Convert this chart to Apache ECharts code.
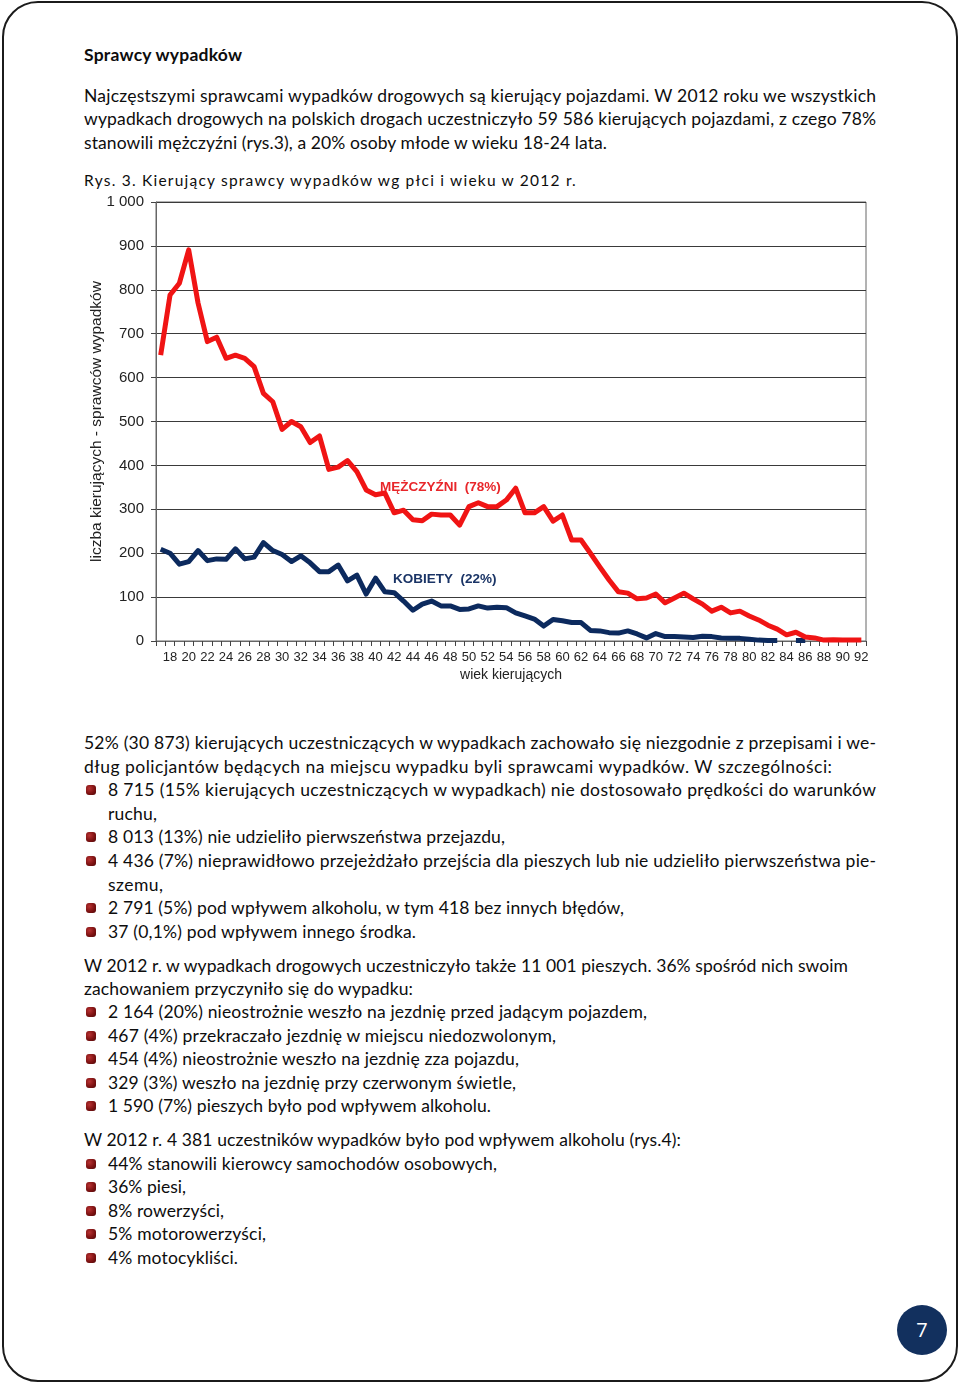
<!DOCTYPE html>
<html><head><meta charset="utf-8">
<script src="https://cdn.jsdelivr.net/npm/echarts@6/dist/echarts.min.js"></script>
<style>
html,body{margin:0;padding:0;background:#fff;}
body{width:960px;height:1383px;position:relative;overflow:hidden;font-family:Lato,"Open Sans",sans-serif;color:#0d0d0d;}
#frame{position:absolute;left:2px;top:1px;width:952px;height:1377px;border:2px solid #1b1b1b;border-radius:36px;}
.ln{position:absolute;white-space:nowrap;font-size:17.5px;line-height:24px;height:24px;}
.bul{position:absolute;width:10px;height:10px;border-radius:3px;background:radial-gradient(circle at 35% 35%,#b83232 0%,#7e1212 55%,#4e0909 100%);}
#chart{position:absolute;left:0;top:185px;width:960px;height:510px;}
#pnum{position:absolute;left:897px;top:1305px;width:50px;height:50px;border-radius:50%;background:#12305e;color:#fff;font-family:"Open Sans",sans-serif;font-size:20px;line-height:50px;text-align:center;}
</style></head>
<body>
<div id="frame"></div>
<div id="text"></div>
<div id="chart"></div>
<div id="pnum">7</div>
<script>
// ---- chart data ----
const ages = [];
for (let a = 17; a <= 92; a++) ages.push(String(a));
const menValues = [651,788,815,891,770,682,692,644,651,644,625,564,545,482,500,488,452,467,391,396,411,386,344,333,337,292,298,276,274,289,287,287,264,306,315,306,306,321,348,292,292,306,273,287,230,230,200,169,139,112,109,96,98,107,87,98,109,96,84,68,77,64,68,57,48,36,27,14,20,9,7,2,3,2,2,2];
const womenValues = [209,200,175,181,206,183,187,186,210,187,191,224,206,197,181,194,178,158,158,173,137,150,107,143,112,110,91,70,84,91,80,80,72,73,80,75,77,76,64,57,50,34,49,46,42,42,24,23,19,18,23,16,7,17,10,10,9,8,11,10,7,6,6,4,2,1,1,null,1,1,null,null,null,null,null,null];
const yTickLabels = ['0','100','200','300','400','500','600','700','800','900','1 000'];
const seriesNames = ['MĘŻCZYŹNI  (78%)','KOBIETY  (22%)'];

// ---- page text ----
const lines = [
 ['Sprawcy wypadków',84,55,242,false,true],
 ['Najczęstszymi sprawcami wypadków drogowych są kierujący pojazdami. W 2012 roku we wszystkich',84,96,876],
 ['wypadkach drogowych na polskich drogach uczestniczyło 59 586 kierujących pojazdami, z czego 78%',84,119,876],
 ['stanowili mężczyźni (rys.3), a 20% osoby młode w wieku 18-24 lata.',84,143,607],
 ['Rys.  3. Kierujący sprawcy wypadków wg płci i wieku w 2012 r.',84,180,577,false,false,15.5],
 ['52% (30 873) kierujących uczestniczących w wypadkach zachowało się niezgodnie z przepisami i we-',84,743,876],
 ['dług policjantów będących na miejscu wypadku byli sprawcami wypadków. W szczególności:',84,767,832],
 ['8 715 (15% kierujących uczestniczących w wypadkach) nie dostosowało prędkości do warunków',108,790,876,true],
 ['ruchu,',108,814,157],
 ['8 013 (13%) nie udzieliło pierwszeństwa przejazdu,',108,837,505,true],
 ['4 436 (7%) nieprawidłowo przejeżdżało przejścia dla pieszych lub nie udzieliło pierwszeństwa pie-',108,861,876,true],
 ['szemu,',108,885,163],
 ['2 791 (5%) pod wpływem alkoholu, w tym 418 bez innych błędów,',108,908,624,true],
 ['37 (0,1%) pod wpływem innego środka.',108,932,416,true],
 ['W 2012 r. w wypadkach drogowych uczestniczyło także 11 001 pieszych. 36%  spośród nich swoim',84,966,848],
 ['zachowaniem przyczyniło się do wypadku:',84,989,413],
 ['2 164 (20%) nieostrożnie weszło na jezdnię przed jadącym pojazdem,',108,1012,647,true],
 ['467 (4%) przekraczało jezdnię w miejscu niedozwolonym,',108,1036,556,true],
 ['454 (4%) nieostrożnie weszło na jezdnię zza pojazdu,',108,1059,519,true],
 ['329 (3%) weszło na jezdnię przy czerwonym świetle,',108,1083,516,true],
 ['1 590 (7%) pieszych było pod wpływem alkoholu.',108,1106,491,true],
 ['W 2012 r. 4 381 uczestników wypadków było pod wpływem alkoholu (rys.4):',84,1140,681],
 ['44% stanowili kierowcy samochodów osobowych,',108,1164,497,true],
 ['36% piesi,',108,1187,186,true],
 ['8% rowerzyści,',108,1211,224,true],
 ['5% motorowerzyści,',108,1234,266,true],
 ['4% motocykliści.',108,1258,238,true]
];
const holder = document.getElementById('text');
lines.forEach(l => {
  const [t,x,y,end,bullet,bold,fs] = l;
  const d = document.createElement('div');
  d.className = 'ln';
  d.textContent = t;
  d.style.left = x + 'px';
  d.style.top = (y - 12) + 'px';
  if (bold) d.style.fontWeight = '700';
  if (fs) d.style.fontSize = fs + 'px';
  holder.appendChild(d);
  const w = d.getBoundingClientRect().width;
  const ls = ((end - x) - w) / Math.max(1, t.length - 1);
  d.style.letterSpacing = ls + 'px';
  if (bullet) {
    const b = document.createElement('div');
    b.className = 'bul';
    b.style.left = '86px';
    b.style.top = (y - 5) + 'px';
    holder.appendChild(b);
  }
});

// ---- chart ----
const chart = echarts.init(document.getElementById('chart'), null, {renderer:'canvas'});
const axFont = '"Liberation Sans", Arial, sans-serif';
chart.setOption({
  animation:false,
  grid:{left:156,right:94,top:17,bottom:54,show:true,borderColor:'#666',borderWidth:1,backgroundColor:'transparent'},
  xAxis:{
    type:'category', data:ages, boundaryGap:true,
    name:'wiek kierujących', nameLocation:'middle', nameGap:27, nameMoveOverlap:false,
    nameTextStyle:{fontFamily:axFont,fontSize:14,color:'#222'},
    axisLine:{lineStyle:{color:'#666',width:1}},
    axisTick:{show:true,interval:0,length:5,lineStyle:{color:'#444'}},
    axisLabel:{interval:(i,v)=>Number(v)%2===0,fontFamily:axFont,fontSize:13,color:'#222',margin:10},
    splitLine:{show:false}
  },
  yAxis:{
    type:'value', min:0, max:1000, interval:100,
    name:'liczba kierujących - sprawców wypadków', nameLocation:'middle', nameGap:51, nameRotate:90, nameMoveOverlap:false,
    nameTextStyle:{fontFamily:axFont,fontSize:15.5,color:'#222'},
    axisLine:{show:true,lineStyle:{color:'#666',width:1}},
    axisTick:{show:true,length:5,lineStyle:{color:'#444'}},
    axisLabel:{formatter:v=>yTickLabels[Math.round(v/100)],fontFamily:axFont,fontSize:15,color:'#222',margin:12},
    splitLine:{lineStyle:{color:'#3a3a3a',width:1}}
  },
  series:[
    {name:seriesNames[1],type:'line',data:womenValues,symbol:'none',connectNulls:false,
     lineStyle:{color:'#0c2a5e',width:5,join:'round'},z:2},
    {name:seriesNames[0],type:'line',data:menValues,symbol:'none',
     lineStyle:{color:'#f01414',width:5,join:'round'},z:3}
  ],
  graphic:[
    {type:'text',left:380,top:487-185-7,style:{text:seriesNames[0],fill:'#e8262a',font:'bold 13.5px "Liberation Sans", Arial, sans-serif'}},
    {type:'text',left:393,top:579-185-7,style:{text:seriesNames[1],fill:'#1a3466',font:'bold 13.5px "Liberation Sans", Arial, sans-serif'}}
  ]
});
</script>
</body></html>
